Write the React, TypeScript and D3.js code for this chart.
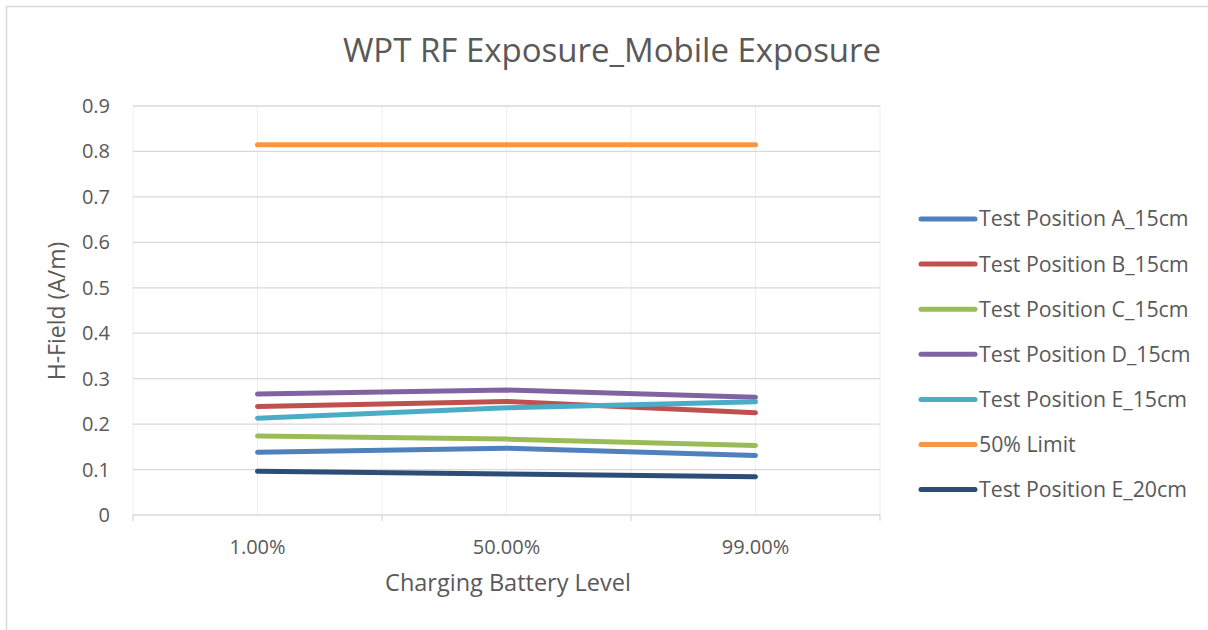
import React from 'react';
import * as d3 from 'd3';

const categories = ['1.00%', '50.00%', '99.00%'];
const seriesNames = [
  'Test Position A_15cm',
  'Test Position B_15cm',
  'Test Position C_15cm',
  'Test Position D_15cm',
  'Test Position E_15cm',
  '50% Limit',
  'Test Position E_20cm',
];
const posA15 = [0.138, 0.147, 0.131];
const posB15 = [0.239, 0.25, 0.225];
const posC15 = [0.174, 0.167, 0.153];
const posD15 = [0.266, 0.275, 0.259];
const posE15 = [0.213, 0.236, 0.249];
const limit50 = [0.815, 0.815, 0.815];
const posE20 = [0.096, 0.09, 0.084];
const yTicks = [0, 0.1, 0.2, 0.3, 0.4, 0.5, 0.6, 0.7, 0.8, 0.9];

const colors = ['#4f81bd', '#c0504d', '#9bbb59', '#8064a2', '#4bacc6', '#f79646', '#2c4d75'];
const allSeries = [posA15, posB15, posC15, posD15, posE15, limit50, posE20];

const W = 1208, H = 630;
const plot = { left: 133, right: 880, top: 106, bottom: 515 };
const font = '"Open Sans", "Liberation Sans", sans-serif';
const textColor = '#595959';

const App = () => {
  const x = d3.scaleBand().domain(categories).range([plot.left, plot.right]).padding(0);
  const y = d3.scaleLinear().domain([0, 0.9]).range([plot.bottom, plot.top]);
  const cx = (c: string) => (x(c) as number) + x.bandwidth() / 2;

  const line = d3.line<number>()
    .x((_, i) => cx(categories[i]))
    .y(d => y(d));

  // vertical grid at band edges and centres
  const vGrid: number[] = [];
  categories.forEach(c => {
    vGrid.push(x(c) as number);
    vGrid.push(cx(c));
  });
  vGrid.push(plot.right);
  const bandEdges = categories.map(c => x(c) as number).concat([plot.right]);

  return (
    <svg width={W} height={H} style={{ position: 'absolute', left: 0, top: 0, background: '#fff' }}>
      <rect x={0} y={0} width={W} height={H} fill="#fff" />
      <rect x={6.5} y={6.5} width={W + 10} height={H + 10} fill="none" stroke="#d9d9d9" strokeWidth={1.5} />

      <text x={612} y={62} textAnchor="middle" fontFamily={font} fontSize={33} fill={textColor}>
        WPT RF Exposure_Mobile Exposure
      </text>

      {vGrid.map((v, i) => (
        <line key={'v' + i} x1={v} x2={v} y1={plot.top} y2={plot.bottom} stroke="#eeeeee" strokeWidth={1} />
      ))}
      {yTicks.map(t => (
        <line key={'h' + t} x1={plot.left} x2={plot.right} y1={y(t)} y2={y(t)} stroke="#d9d9d9" strokeWidth={1.3} />
      ))}
      {bandEdges.map((v, i) => (
        <line key={'t' + i} x1={v} x2={v} y1={plot.bottom} y2={plot.bottom + 6} stroke="#d9d9d9" strokeWidth={1.3} />
      ))}

      {yTicks.map(t => (
        <text key={'yl' + t} x={110} y={y(t)} dy="0.35em" textAnchor="end" fontFamily={font} fontSize={20} fill={textColor}>
          {t === 0 ? '0' : d3.format('.1f')(t)}
        </text>
      ))}
      {categories.map(c => (
        <text key={'xl' + c} x={cx(c)} y={554} textAnchor="middle" fontFamily={font} fontSize={20} fill={textColor}>
          {c}
        </text>
      ))}

      <text x={508} y={591} textAnchor="middle" fontFamily={font} fontSize={23.5} fill={textColor}>
        Charging Battery Level
      </text>
      <text transform="translate(65,311) rotate(-90)" textAnchor="middle" fontFamily={font} fontSize={23} fill={textColor}>
        H-Field (A/m)
      </text>

      {allSeries.map((s, i) => (
        <path key={'s' + i} d={line(s) as string} fill="none" stroke={colors[i]} strokeWidth={5} strokeLinecap="round" strokeLinejoin="round" />
      ))}

      {seriesNames.map((n, i) => {
        const ly = 219 + i * 45.1;
        return (
          <g key={'lg' + i}>
            <line x1={921} x2={975} y1={ly} y2={ly} stroke={colors[i]} strokeWidth={5} strokeLinecap="round" />
            <text x={979} y={ly} dy="0.35em" fontFamily={font} fontSize={21.3} fill={textColor}>{n}</text>
          </g>
        );
      })}
    </svg>
  );
};

export default App;
